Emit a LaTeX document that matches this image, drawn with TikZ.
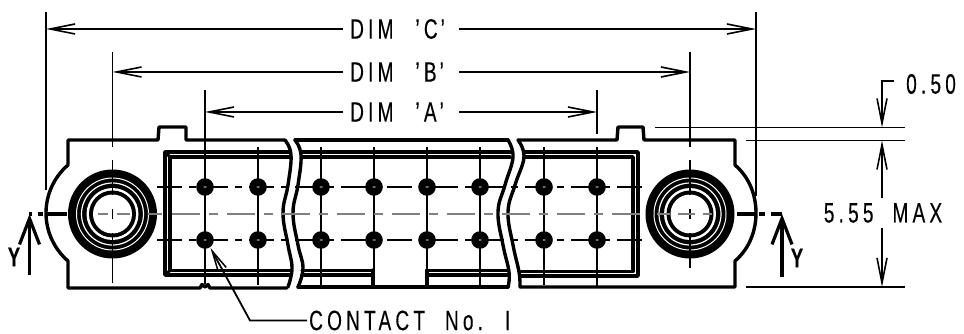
\documentclass[tikz,border=0pt]{standalone}
\usepackage{fontspec}
\setmainfont[FakeStretch=0.68,LetterSpace=15,FakeBold=0.25]{Liberation Sans}
\usetikzlibrary{arrows.meta}
\tikzset{
  outline/.style={line width=3.4pt,line join=round,line cap=round},
  thin line/.style={line width=1.8pt},
  dim line/.style={line width=1.8pt,-{Straight Barb[length=25pt,width=10pt,line width=1.6pt]}},
  inner line/.style={line width=3pt},
  row line/.style={line width=1.8pt,dash pattern=on 25pt off 7pt on 7pt off 7pt},
  mid line/.style={line width=1.7pt,draw=black!50,dash pattern=on 28pt off 9pt on 9pt off 9pt},
  mid seg/.style={line width=1.7pt,draw=black!50},
  cut line/.style={line width=3.4pt},
  view arrow/.style={line width=3.4pt,-{Straight Barb[length=26pt,width=20pt,line width=3.2pt]}},
  label/.style={inner sep=0pt,font=\fontsize{28}{28}\selectfont,text=black},
  view label/.style={inner sep=0pt,font=\fontsize{27}{27}\bfseries\selectfont}
}
\begin{document}
\begin{tikzpicture}[x=1pt,y=-1pt]
\useasboundingbox (0,0) rectangle (964,334);
% named points
\coordinate (cL) at (112.5,214);
\coordinate (cR) at (690,214);
% extension lines
\draw[thin line] (46,12) -- (46,190);
\draw[thin line] (756,12) -- (756,196);
\draw[thin line] (112.5,52) -- (112.5,147) (112.5,160) -- (112.5,170);
\draw[thin line] (690,52) -- (690,147) (690,160) -- (690,170);
\draw[thin line] (205,90) -- (205,178);
\draw[thin line] (597,90) -- (597,134) (597,147) -- (597,178);
% extension lines on the right
\draw[thin line] (655,127.5) -- (905,127.5);
\draw[thin line] (746,140.5) -- (905,140.5);
\draw[thin line] (746,287) -- (905,287);
% body, left section
\draw[outline] (285,140) -- (186,140) -- (186,127) -- (159,127) -- (158,140) -- (68,140) -- (68,165)
  .. controls (53,178) and (46,196) .. (46,213) .. controls (46,230) and (53,248) .. (68,261)
  -- (68,288) -- (200,288) -- (202,284.5) -- (205,287) -- (208,284.5) -- (210,288) -- (287,288);
\draw[outline] plot[smooth,tension=.7] coordinates {(285,140) (291,155) (288,185) (283,213) (288,245) (292,268) (288,287)};
\draw[outline] plot[smooth,tension=.7] coordinates {(295,140) (301,155) (298,185) (293,213) (298,245) (303,268) (298,287)};
% body, middle section
\draw[outline] (295,140) -- (508,140);
\draw[outline] (298,287) -- (508,287);
\draw[outline] plot[smooth,tension=.7] coordinates {(508,140) (513,157) (505,185) (498,212) (503,245) (509,272) (508,287)};
\draw[outline] plot[smooth,tension=.7] coordinates {(518,140) (524,157) (515,185) (508,212) (513,245) (519,272) (520,287)};
% body, right section
\draw[outline] (518,140) -- (617,140) -- (618,127) -- (643,127) -- (644,140) -- (735,140) -- (735,165)
  .. controls (750,178) and (756,196) .. (756,213) .. controls (756,230) and (750,248) .. (735,261)
  -- (735,287) -- (520,287);
% inner housing
\draw[outline] (290,152) -- (165,152) -- (165,275) -- (290,275);
\draw[outline] (290,157) -- (170,157) -- (170,270.5) -- (290,270.5);
\draw[inner line] (165,152) -- (170,157) (165,275) -- (170,270.5);
\draw[outline] (302,152) -- (512,152) (302,157) -- (510,157);
\draw[outline] (302,270.5) -- (373,270.5) (302,275) -- (373,275) (373,270) -- (373,287);
\draw[outline] (427,270.5) -- (508,270.5) (427,275) -- (508,275) (427,270) -- (427,287);
\draw[outline] (524,152) -- (638,152) -- (638,276) -- (521,276);
\draw[outline] (524,157) -- (633,157) -- (633,271.5) -- (521,271.5);
% row centre lines
\draw[row line] (157,187) -- (647,187);
\draw[row line] (157,240) -- (647,240);
% contacts: vertical centre lines and dots
\foreach \x in {258,321,374,427,480,544}
  \draw[thin line] (\x,147) -- (\x,285);
\draw[thin line] (205,178) -- (205,284);
\draw[thin line] (597,147) -- (597,287);
\foreach \x in {205,258,321,374,427,480,544,597} {
  \foreach \y in {187,240} {
    \fill (\x,\y) circle (8.8pt);
    \fill[white] (\x-0.8,\y) circle (0.7pt) (\x+0.8,\y) circle (0.7pt);
  }
}
% mounting holes
\foreach \c in {cL,cR} {
  \fill[black] (\c) circle (44.5pt);
  \draw[white,line width=1pt] (\c) circle (36pt);
  \draw[white,line width=1.2pt] (\c) circle (31pt);
  \fill[white] (\c) circle (26pt);
  \fill[black] (\c) circle (23.5pt);
  \fill[white] (\c) circle (19.5pt);
}
% vertical centre lines over the holes
\draw[thin line] (112.5,160) -- (112.5,195) (112.5,209) -- (112.5,219) (112.5,233) -- (112.5,283);
\draw[thin line] (690,160) -- (690,195) (690,209) -- (690,219) (690,233) -- (690,268);
% horizontal centre line
\draw[mid line] (172,214) -- (640,214);
\draw[mid seg] (98,214) -- (108,214) (117,214) -- (130,214) (148,214) -- (162,214);
\draw[mid seg] (657,214) -- (670,214) (678,214) -- (695,214) (703,214) -- (712,214);
% section line
\draw[cut line] (29,214) -- (32,214) (38,214) -- (43,214) (46,214) -- (67,214);
\draw[cut line] (737,214) -- (756,214) (759,214) -- (765,214) (771,214) -- (782,214);
% section arrows
\coordinate (yL) at (29.5,214);
\coordinate (yR) at (782,214);
\draw[view arrow] (29.5,275) -- (yL);
\draw[view arrow] (782,277) -- (yR);
\node[view label] (Y1) at (14,257) {Y};
\node[view label] (Y2) at (797,258) {Y};
% dimensions
\node[label,anchor=west] (dC) at (350,29) {DIM\hspace{22pt}'C\hspace{3pt}'};
\node[label,anchor=west] (dB) at (350,72) {DIM\hspace{22pt}'B\hspace{3pt}'};
\node[label,anchor=west] (dA) at (350,112) {DIM\hspace{22pt}'A\hspace{3pt}'};
\coordinate (c1) at (46,29); \coordinate (c2) at (756,29);
\coordinate (b1) at (112.5,72); \coordinate (b2) at (690,72);
\coordinate (a1) at (205,112); \coordinate (a2) at (597,112);
\draw[dim line] (343,29) -- (c1);
\draw[dim line] (459,29) -- (c2);
\draw[dim line] (343,72) -- (b1);
\draw[dim line] (459,72) -- (b2);
\draw[dim line] (343,112) -- (a1);
\draw[dim line] (459,112) -- (a2);
% right hand dimensions
\node[label,anchor=west] (t50) at (906,84) {0.50};
\node[label] (t555) at (883,213) {5.55\ \ MAX};
\coordinate (t1) at (882,127.5);
\coordinate (t2) at (882,140.5);
\coordinate (t3) at (882,287);
\draw[dim line] (894,81) -- (882,81) -- (t1);
\draw[dim line] (882,198) -- (t2);
\draw[dim line] (882,228) -- (t3);
% contact leader
\node[label,anchor=west] (cn) at (309,320.5) {CONTACT\hspace{20pt}No.\hspace{22pt}I};
\coordinate (k) at (250,320.5);
\draw[thin line,-{Straight Barb[length=21pt,width=9pt,line width=1.5pt]}] (cn.west) ++(-2,0) -- (k) -- (210.5,248);
\end{tikzpicture}
\end{document}
